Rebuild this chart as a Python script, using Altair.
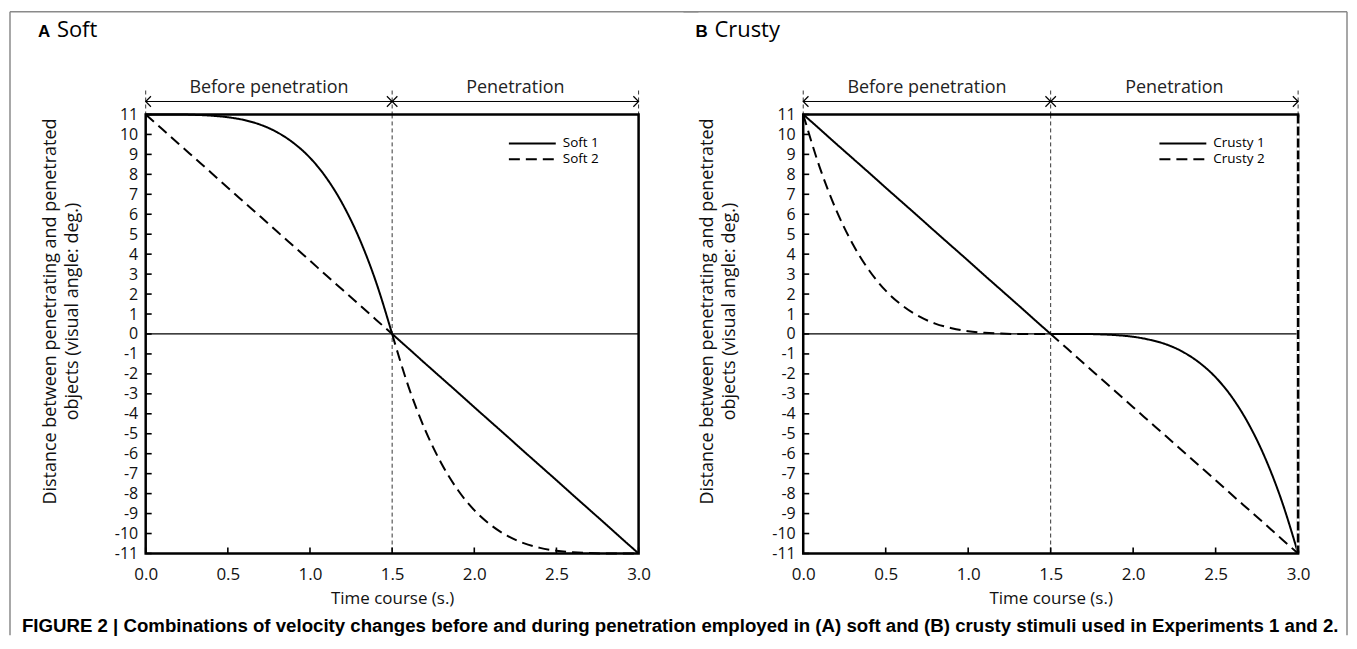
import altair as alt
import pandas as pd

# ---------------- data ----------------
T = [0.0, 0.1, 0.2, 0.3, 0.4, 0.5, 0.6, 0.7, 0.8, 0.9, 1.0, 1.1, 1.2, 1.3, 1.4, 1.5,
     1.6, 1.7, 1.8, 1.9, 2.0, 2.1, 2.2, 2.3, 2.4, 2.5, 2.6, 2.7, 2.8, 2.9, 3.0]

SOFT_1 = [11.0, 11.0, 11.0, 10.98, 10.94, 10.86, 10.72, 10.48, 10.11, 9.57, 8.83, 7.82, 6.49, 4.79, 2.65, 0.0,
          -0.73, -1.47, -2.2, -2.93, -3.67, -4.4, -5.13, -5.87, -6.6, -7.33, -8.07, -8.8, -9.53, -10.27, -11.0]
SOFT_2 = [11.0, 10.27, 9.53, 8.8, 8.07, 7.33, 6.6, 5.87, 5.13, 4.4, 3.67, 2.93, 2.2, 1.47, 0.73, 0.0,
          -2.65, -4.79, -6.49, -7.82, -8.83, -9.57, -10.11, -10.48, -10.72, -10.86, -10.94, -10.98, -11.0, -11.0, -11.0]
CRUSTY_1 = [11.0, 10.27, 9.53, 8.8, 8.07, 7.33, 6.6, 5.87, 5.13, 4.4, 3.67, 2.93, 2.2, 1.47, 0.73, 0.0,
            0.0, 0.0, -0.02, -0.06, -0.14, -0.29, -0.52, -0.89, -1.43, -2.17, -3.18, -4.51, -6.21, -8.35, -11.0]
CRUSTY_2 = [11.0, 8.35, 6.21, 4.51, 3.18, 2.17, 1.43, 0.89, 0.52, 0.29, 0.14, 0.06, 0.02, 0.0, 0.0, 0.0,
            -0.73, -1.47, -2.2, -2.93, -3.67, -4.4, -5.13, -5.87, -6.6, -7.33, -8.07, -8.8, -9.53, -10.27, -11.0]

Y_TICKS = list(range(-11, 12))
X_TICKS = [0.0, 0.5, 1.0, 1.5, 2.0, 2.5, 3.0]
PHASE_LABELS = ["Before penetration", "Penetration"]
PHASE_MID = [0.75, 2.25]
PHASE_BOUNDS = [0.0, 1.5, 3.0]

CAPTION = ("FIGURE 2 | Combinations of velocity changes before and during penetration employed in "
           "(A) soft and (B) crusty stimuli used in Experiments 1 and 2.")
Y_TITLE = ["Distance between penetrating and penetrated", "objects (visual angle: deg.)"]
X_TITLE = "Time course (s.)"

FONT = "Open Sans"
H = 440
XS = alt.Scale(domain=[0, 3], nice=False, zero=False)
YS = alt.Scale(domain=[-11, 11], nice=False, zero=False)

XAXIS = alt.Axis(values=X_TICKS, format=".1f", ticks=False, domain=False, grid=False,
                 labelFlush=False, labelOverlap=False,
                 labelFont=FONT, labelFontSize=17, labelPadding=13, labelColor="#111",
                 titleFont=FONT, titleFontSize=17, titleFontWeight="normal",
                 titleColor="#111", titlePadding=8)
YAXIS = alt.Axis(values=Y_TICKS, ticks=False, domain=False, grid=False,
                 labelExpr="'' + datum.value", labelOverlap=False, labelFlush=False,
                 labelFont=FONT, labelFontSize=16, labelPadding=8, labelColor="#111",
                 titleFont=FONT, titleFontSize=18, titleFontWeight="normal",
                 titleColor="#111", titlePadding=33, titleLineHeight=22, titleY=197)


def X(field):
    return alt.X(field, scale=XS, title=X_TITLE, axis=XAXIS)


def Y(field):
    return alt.Y(field, scale=YS, title=Y_TITLE, axis=YAXIS)


LEFT_ARROW = "M1,-1L0,0L1,1"
RIGHT_ARROW = "M-1,-1L0,0L-1,1"


def panel(letter, word, names, s1, s2, W, leg_x, first):
    # each phase (before / after 1.5 s) is drawn as its own curve; 1.5 s belongs to both
    rows = []
    for name, vals in zip(names, [s1, s2]):
        for t, v in zip(T, vals):
            if t <= 1.5:
                rows.append((t, v, name, name + "a"))
            if t >= 1.5:
                rows.append((t, v, name, name + "b"))
    df = pd.DataFrame(rows, columns=["t", "y", "series", "seg"])

    lines = alt.Chart(df).mark_line(color="black", strokeWidth=2, interpolate="monotone").encode(
        x=X("t:Q"),
        y=Y("y:Q"),
        strokeDash=alt.StrokeDash("series:N", scale=alt.Scale(domain=names, range=[[1, 0], [11, 6]]),
                                  legend=None),
        detail="seg:N",
    )

    yt = alt.Chart(pd.DataFrame({"v": Y_TICKS})).mark_rule(color="black", strokeWidth=1.6).encode(
        y=Y("v:Q"), x=alt.value(0), x2=alt.value(6))
    xt = alt.Chart(pd.DataFrame({"v": X_TICKS})).mark_rule(color="black", strokeWidth=1.6).encode(
        x=X("v:Q"), y=alt.value(H), y2=alt.value(H - 6))

    zero = alt.Chart(pd.DataFrame({"a": [0.0], "b": [3.0], "z": [0.0]})).mark_rule(
        color="black", strokeWidth=1.3).encode(
        x=X("a:Q"), x2="b:Q", y=Y("z:Q"))

    bnd = pd.DataFrame({"v": PHASE_BOUNDS})
    vdash_top = alt.Chart(bnd).mark_rule(color="black", strokeWidth=0.8, strokeDash=[4, 3]).encode(
        x=X("v:Q"), y=alt.value(-24), y2=alt.value(0))
    vdash_mid = alt.Chart(pd.DataFrame({"v": [PHASE_BOUNDS[1]]})).mark_rule(
        color="black", strokeWidth=0.8, strokeDash=[4, 3]).encode(
        x=X("v:Q"), y=alt.value(0), y2=alt.value(H))

    arrow = alt.Chart(pd.DataFrame({"a": [PHASE_BOUNDS[0]], "b": [PHASE_BOUNDS[2]]})).mark_rule(
        color="black", strokeWidth=1).encode(
        x=X("a:Q"), x2="b:Q", y=alt.value(-13))
    heads_l = alt.Chart(pd.DataFrame({"v": PHASE_BOUNDS[:2]})).mark_point(
        shape=LEFT_ARROW, size=110, filled=False, color="black", strokeWidth=1.2, opacity=1).encode(
        x=X("v:Q"), y=alt.value(-13))
    heads_r = alt.Chart(pd.DataFrame({"v": PHASE_BOUNDS[1:]})).mark_point(
        shape=RIGHT_ARROW, size=110, filled=False, color="black", strokeWidth=1.2, opacity=1).encode(
        x=X("v:Q"), y=alt.value(-13))
    phase_txt = alt.Chart(pd.DataFrame({"v": PHASE_MID, "lab": PHASE_LABELS})).mark_text(
        font=FONT, fontSize=18, color="#222", baseline="middle").encode(
        x=X("v:Q"), y=alt.value(-27), text="lab:N")

    # legend (drawn inside the plot)
    leg_rule_1 = alt.Chart(pd.DataFrame({"n": [names[0]]})).mark_rule(color="black", strokeWidth=2).encode(
        x=alt.value(leg_x), x2=alt.value(leg_x + 47), y=alt.value(29))
    leg_rule_2 = alt.Chart(pd.DataFrame({"n": [names[1]]})).mark_rule(
        color="black", strokeWidth=2, strokeDash=[11, 6]).encode(
        x=alt.value(leg_x), x2=alt.value(leg_x + 47), y=alt.value(45))
    leg_txt_1 = alt.Chart(pd.DataFrame({"n": [names[0]]})).mark_text(
        font=FONT, fontSize=13.5, align="left", baseline="middle", color="black").encode(
        x=alt.value(leg_x + 54), y=alt.value(29), text="n:N")
    leg_txt_2 = alt.Chart(pd.DataFrame({"n": [names[1]]})).mark_text(
        font=FONT, fontSize=13.5, align="left", baseline="middle", color="black").encode(
        x=alt.value(leg_x + 54), y=alt.value(45), text="n:N")

    # panel heading
    head_letter = alt.Chart(pd.DataFrame({"s": [letter]})).mark_text(
        font="Liberation Sans", fontWeight="bold", fontSize=17, align="left", baseline="alphabetic",
        color="black").encode(x=alt.value(-108), y=alt.value(-78), text="s:N")
    head_word = alt.Chart(pd.DataFrame({"s": [word]})).mark_text(
        font=FONT, fontSize=22, align="left", baseline="alphabetic", color="black").encode(
        x=alt.value(-89), y=alt.value(-78), text="s:N")

    layers = [lines, zero, yt, xt, vdash_top, vdash_mid, arrow, heads_l, heads_r, phase_txt,
              leg_rule_1, leg_rule_2, leg_txt_1, leg_txt_2, head_letter, head_word]

    frame_df = pd.DataFrame({"k": [0]})
    if first:
        layers.append(alt.Chart(frame_df).mark_rule(color="#8a8a8a", strokeWidth=1.5).encode(
            x=alt.value(-136), y=alt.value(-103), y2=alt.value(522)))
        layers.append(alt.Chart(frame_df).mark_rule(color="#8a8a8a", strokeWidth=1.5).encode(
            x=alt.value(-136), x2=alt.value(W + 60), y=alt.value(-103)))
        layers.append(alt.Chart(pd.DataFrame({"c": [CAPTION]})).mark_text(
            font="Liberation Sans", fontWeight="bold", fontSize=18.7, align="left", baseline="middle",
            color="black").encode(x=alt.value(-124), y=alt.value(513), text="c:N"))
    else:
        # right edge of panel B is drawn as a heavy dashed line in the reference
        edge = pd.DataFrame({"v": [PHASE_BOUNDS[2]]})
        layers.append(alt.Chart(edge).mark_rule(color="white", strokeWidth=3).encode(
            x=X("v:Q"), y=alt.value(3), y2=alt.value(H - 3)))
        layers.append(alt.Chart(edge).mark_rule(color="black", strokeWidth=2.5, strokeDash=[9, 3]).encode(
            x=X("v:Q"), y=alt.value(0), y2=alt.value(H)))
        layers.append(alt.Chart(frame_df).mark_rule(color="#8a8a8a", strokeWidth=1.5).encode(
            x=alt.value(-120), x2=alt.value(545), y=alt.value(-103)))
        layers.append(alt.Chart(frame_df).mark_rule(color="#8a8a8a", strokeWidth=1.5).encode(
            x=alt.value(545), y=alt.value(-103), y2=alt.value(522)))

    return alt.layer(*layers).properties(width=W, height=H)


pa = panel("A", "Soft", ["Soft 1", "Soft 2"], SOFT_1, SOFT_2, 494, 364, True)
pb = panel("B", "Crusty", ["Crusty 1", "Crusty 2"], CRUSTY_1, CRUSTY_2, 496, 357, False)

chart = alt.hconcat(pa, pb, spacing=165, bounds="flush").properties(
    padding={"left": 0, "top": 1, "right": 0, "bottom": 0}, background="white"
).configure_view(stroke="black", strokeWidth=2.5)

chart.save("out.html", embed_options={"renderer": "svg", "actions": False})
